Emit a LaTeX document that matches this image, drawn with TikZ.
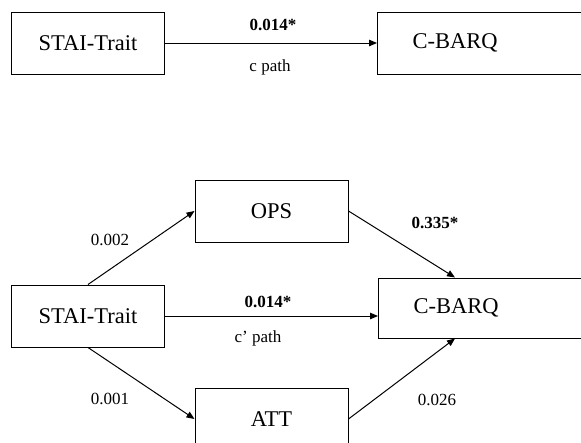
\documentclass[tikz,border=0pt]{standalone}
\usepackage{fontspec}
\setmainfont{Liberation Serif}
\usetikzlibrary{arrows.meta,calc}
\tikzset{
  box/.style={draw,line width=1pt,minimum width=153pt,minimum height=62pt,inner sep=0pt,font=\fontsize{22.5}{25}\selectfont},
  wide box/.style={box,anchor=west,text width=212pt,align=left},
  path arrow/.style={line width=1pt,-{Triangle[length=8pt,width=6.5pt]}},
  coef/.style={inner sep=0pt,font=\fontsize{17}{20}\selectfont}
}
\begin{document}
\begin{tikzpicture}[x=1pt,y=-1pt]
  \useasboundingbox[fill=white] (0,0) rectangle (581,442);
  % total effect
  \node[box] (staiA) at (88,43) {STAI-Trait};
  \node[wide box] (cbarqA) at (377,43) {\hspace*{35pt}C-BARQ};
  \draw[path arrow] (staiA.east) -- (staiA.east -| cbarqA.west);
  \node[coef,font=\bfseries\fontsize{17}{20}\selectfont] (cA) at (273,25) {0.014*};
  \node[coef] (cAname) at (270,67) {c path};
  % mediation model
  \node[box] (staiB) at (88,316) {STAI-Trait};
  \node[box] (ops) at (271.5,211) {OPS};
  \node[box] (att) at (271.5,419) {ATT};
  \node[wide box,minimum height=60pt] (cbarqB) at (378,308) {\hspace*{35pt}C-BARQ};
  \draw[path arrow] (staiB.north) -- (ops.west);
  \draw[path arrow] (staiB.south) -- (att.west);
  \draw[path arrow] (staiB.east) -- (staiB.east -| cbarqB.west);
  \draw[path arrow] (ops.east) -- ([xshift=77pt]cbarqB.north west);
  \draw[path arrow] (att.east) -- ([xshift=77pt]cbarqB.south west);
  \node[coef] (a1) at (110,240) {0.002};
  \node[coef] (a2) at (110,399) {0.001};
  \node[coef,font=\bfseries\fontsize{17}{20}\selectfont] (b1) at (435,223) {0.335*};
  \node[coef] (b2) at (437,400) {0.026};
  \node[coef,font=\bfseries\fontsize{17}{20}\selectfont] (cB) at (268,302) {0.014*};
  \node[coef] (cBname) at (258,338) {c' path};
\end{tikzpicture}
\end{document}
